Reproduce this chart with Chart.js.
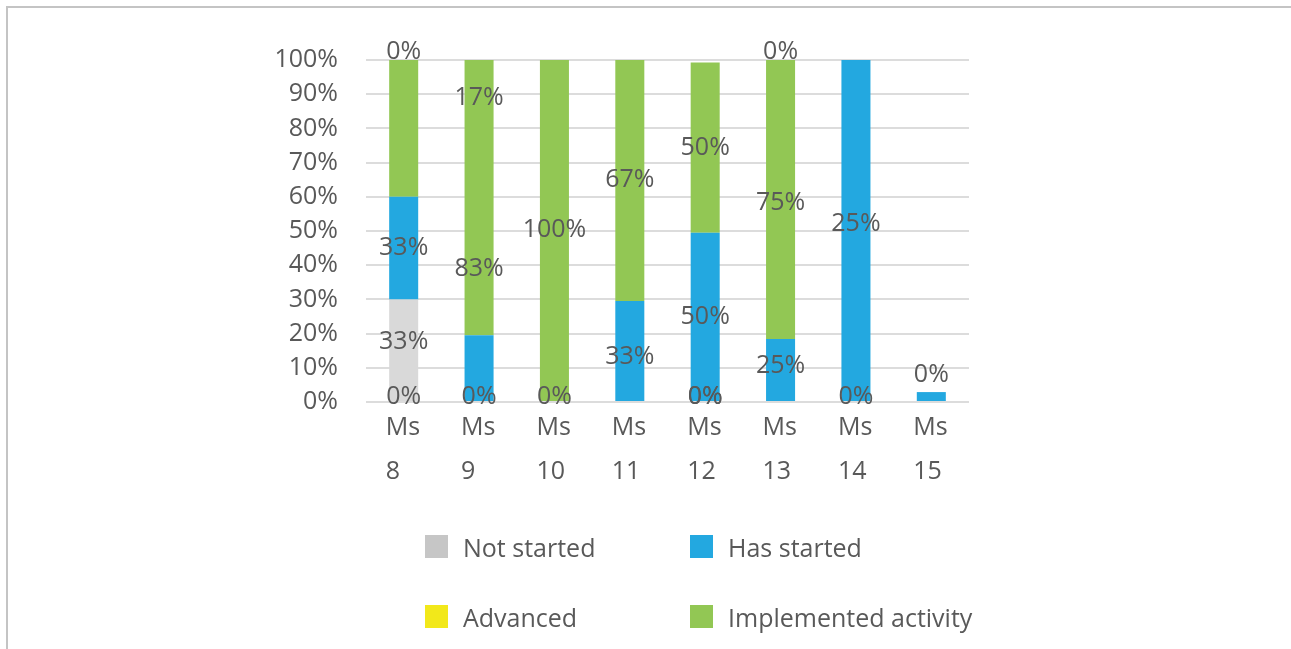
<!DOCTYPE html>
<html lang="en">
<head>
  <meta charset="UTF-8">
  <title>Milestone status</title>
  <script src="https://cdn.jsdelivr.net/npm/chart.js@4/dist/chart.umd.min.js"></script>
  <style>
    * { box-sizing: border-box; }
    body { margin: 0; width: 1291px; height: 649px; overflow: hidden; background: #fff; font-family: 'Open Sans', sans-serif; }
    .frame { position: absolute; left: 6px; top: 6px; width: 1400px; height: 700px; border-left: 2px solid #c4c4c4; border-top: 2px solid #c4c4c4; }
    .chart-wrap { position: absolute; left: 0; top: 0; width: 1291px; height: 649px; }
    .legend { position: absolute; left: 425px; top: 535px; display: grid; grid-template-columns: 265px auto; row-gap: 47px; }
    .legend-item { display: flex; align-items: center; height: 23px; font-size: 25px; color: #595959; white-space: nowrap; }
    .legend-box { width: 23px; height: 23px; margin-right: 15px; flex: none; }
  </style>
</head>
<body>
  <div class="frame"></div>
  <div class="chart-wrap"><canvas id="statusChart"></canvas></div>
  <div class="legend" id="legend"></div>

  <script>
    // values (bar heights, in %)
    const categories = [['Ms', '8'], ['Ms', '9'], ['Ms', '10'], ['Ms', '11'], ['Ms', '12'], ['Ms', '13'], ['Ms', '14'], ['Ms', '15']];
    const seriesNames = ['Not started', 'Has started', 'Advanced', 'Implemented activity'];
    const notStarted = [30, 0, 0, 0, 0, 0, 0, 0];
    const hasStarted = [30, 19.5, 0, 29.5, 49.5, 18.4, 100, 2.9];
    const advanced = [0, 0, 0, 0, 0, 0, 0, 0];
    const implemented = [40, 80.5, 100, 70.5, 49.8, 81.6, 0, 0];

    // data labels as printed, and the level (in %) where each one sits
    const labelTexts = [
      ['0%', '33%', '33%', '0%'],
      ['17%', '83%', '0%'],
      ['100%', '0%'],
      ['67%', '33%'],
      ['50%', '50%', '0%', '0%'],
      ['0%', '75%', '25%'],
      ['25%', '0%'],
      ['0%'],
    ];
    const labelLevels = [
      [102.4, 45, 17.6, 1.5],
      [88.8, 39, 1.5],
      [50.3, 1.5],
      [64.9, 13.2],
      [74.2, 24.9, 1.5, 1.5],
      [102.4, 58.3, 10.5],
      [52, 1.5],
      [7.9],
    ];
    const yTicks = [0, 10, 20, 30, 40, 50, 60, 70, 80, 90, 100];

    const colors = ['#d9d9d9', '#23a8e0', '#f2e81a', '#92c754'];
    const legendColors = ['#c6c6c6', '#23a8e0', '#f2e81a', '#92c754'];
    const TEXT = '#595959';
    const FONT = "'Open Sans', sans-serif";

    /**
     * Draw the percentage labels over the bars
     */
    const valueLabels = {
      id: 'valueLabels',
      afterDatasetsDraw(chart) {
        const { ctx } = chart;
        const y = chart.scales.y;
        const bars = chart.getDatasetMeta(0).data;
        ctx.save();
        ctx.font = `25px ${FONT}`;
        ctx.fillStyle = TEXT;
        ctx.textAlign = 'center';
        ctx.textBaseline = 'middle';
        labelTexts.forEach((texts, i) => {
          texts.forEach((t, j) => {
            ctx.fillText(t, bars[i].x, y.getPixelForValue(labelLevels[i][j]));
          });
        });
        ctx.restore();
      }
    };

    const chart = new Chart(document.getElementById('statusChart'), {
      type: 'bar',
      data: {
        labels: categories,
        datasets: [notStarted, hasStarted, advanced, implemented].map((data, i) => ({
          label: seriesNames[i],
          data,
          backgroundColor: colors[i],
          borderWidth: 0,
          barPercentage: 0.385,
          categoryPercentage: 1,
        }))
      },
      options: {
        responsive: true,
        maintainAspectRatio: false,
        animation: false,
        layout: { padding: { left: 266, right: 322, top: 60, bottom: 147 } },
        plugins: {
          legend: { display: false },
          tooltip: { enabled: false },
        },
        scales: {
          x: {
            stacked: true,
            grid: { display: false, drawTicks: false },
            border: { display: false },
            ticks: {
              color: TEXT,
              font: { family: FONT, size: 25, lineHeight: '44px' },
              align: 'start',
              labelOffset: -18,
              padding: 4,
              maxRotation: 0,
              autoSkip: false,
            },
            afterFit: scale => { scale.height = 100; },
          },
          y: {
            stacked: true,
            min: 0,
            max: 100,
            afterBuildTicks: scale => { scale.ticks = yTicks.map(value => ({ value })); },
            grid: { color: '#dcdcdc', lineWidth: 2, drawTicks: false },
            border: { display: false },
            ticks: {
              color: TEXT,
              font: { family: FONT, size: 25 },
              padding: 28,
              callback: v => v + '%',
            },
            afterFit: scale => { scale.width = 100; },
          }
        }
      },
      plugins: [valueLabels]
    });

    // legend in two columns, built from the chart's own legend items
    const legendEl = document.getElementById('legend');
    chart.options.plugins.legend.labels.generateLabels(chart).forEach((item, i) => {
      const row = document.createElement('div');
      row.className = 'legend-item';
      row.innerHTML = `<span class="legend-box" style="background:${legendColors[i]}"></span>${item.text}`;
      legendEl.appendChild(row);
    });
  </script>
</body>
</html>
